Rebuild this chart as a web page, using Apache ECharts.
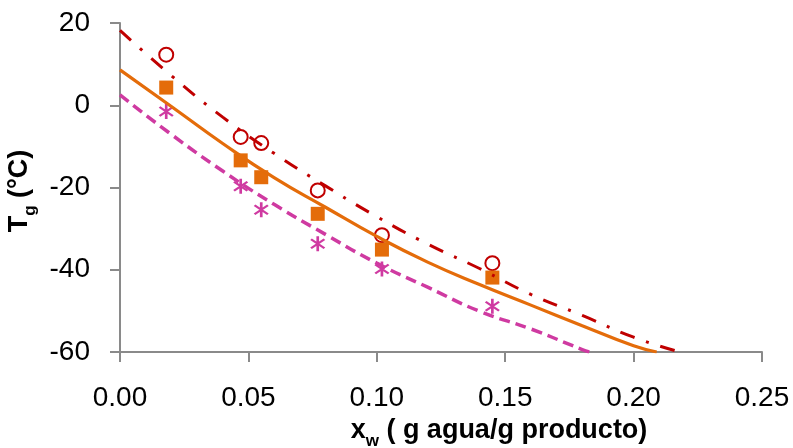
<!DOCTYPE html>
<html>
<head>
<meta charset="utf-8">
<script src="https://cdn.jsdelivr.net/npm/echarts@6/dist/echarts.min.js"></script>
<style>
  html, body { margin: 0; padding: 0; background: #fff; }
  #chart { width: 793px; height: 448px; }
</style>
</head>
<body>
<div id="chart"></div>
<script>
// measured points (x_w vs Tg)
var xMuestra = [0.018, 0.047, 0.055, 0.077, 0.102, 0.145];
var tgCirculo = [12.3, -7.7, -9.2, -20.7, -31.6, -38.4];
var tgCuadro = [4.3, -13.4, -17.5, -26.4, -35.1, -41.9];
var tgAsterisco = [-1.5, -19.7, -25.4, -33.7, -39.8, -48.9];

// model curves
var xRojo = [0, 0.02, 0.04, 0.06, 0.08, 0.10, 0.12, 0.14, 0.16, 0.18, 0.20, 0.218];
var tgRojo = [18.2, 7.2, -2.9, -11.7, -19.6, -27.1, -33.8, -39.7, -46.0, -51.1, -56.4, -60];
var xNaranja = [0, 0.02, 0.04, 0.06, 0.08, 0.10, 0.12, 0.14, 0.16, 0.18, 0.20, 0.209];
var tgNaranja = [8.6, -0.3, -9.3, -17.6, -24.8, -31.9, -38.2, -43.6, -48.6, -53.6, -58.5, -60];
var xRosa = [0, 0.02, 0.04, 0.06, 0.08, 0.10, 0.12, 0.14, 0.16, 0.18, 0.183];
var tgRosa = [2.5, -7.1, -16.0, -24.1, -31.4, -38.4, -44.3, -50.1, -54.4, -59.4, -60];

var rojo = '#C00000', naranja = '#E46C0A', rosa = '#CF3AA1';
var fuente = '"Liberation Sans", Arial, sans-serif';

function pares(xs, ys) {
    return xs.map(function (x, i) { return [x, ys[i]]; });
}

// asterisk marker: vertical bar + two diagonals
var asterisco = 'path://M8.6 0L11.4 0L11.4 20L8.6 20Z' +
    'M3.846 3.013L17.846 15.013L16.154 16.987L2.154 4.987Z' +
    'M16.154 3.013L17.846 4.987L3.846 16.987L2.154 15.013Z';

var richNombre = {
    b: { fontFamily: fuente, fontWeight: 'bold', fontSize: 27, lineHeight: 30, verticalAlign: 'top', color: '#000' },
    s: { fontFamily: fuente, fontWeight: 'bold', fontSize: 17, lineHeight: 48, verticalAlign: 'middle', color: '#000' }
};

var chart = echarts.init(document.getElementById('chart'));
var option = {
    animation: false,
    grid: { left: 120, right: 31, top: 23, bottom: 96, containLabel: false, outerBoundsMode: 'none' },
    xAxis: {
        type: 'value',
        min: 0, max: 0.25, interval: 0.05,
        name: '{b|x}{s|w}{b| ( g agua/g producto)}',
        nameLocation: 'middle',
        nameGap: 56,
        nameTextStyle: { padding: [0, 0, 0, 116], rich: richNombre },
        axisLine: { onZero: false, lineStyle: { color: '#8a8a8a', width: 2 } },
        axisTick: { show: true, length: 10, lineStyle: { color: '#8a8a8a', width: 2 } },
        axisLabel: {
            margin: 32, fontSize: 28, fontFamily: fuente, color: '#000',
            formatter: function (v) { return v.toFixed(2); }
        },
        splitLine: { show: false }
    },
    yAxis: {
        type: 'value',
        min: -60, max: 20, interval: 20,
        name: '{b|T}{s|g}{b| (°C)}',
        nameLocation: 'middle',
        nameGap: 64,
        nameTextStyle: { padding: [0, 7, 0, 0], rich: richNombre },
        axisLine: { show: true, onZero: false, lineStyle: { color: '#8a8a8a', width: 2 } },
        axisTick: { show: true, length: 10, lineStyle: { color: '#8a8a8a', width: 2 } },
        axisLabel: { margin: 30, fontSize: 28, fontFamily: fuente, color: '#000' },
        splitLine: { show: false }
    },
    series: [
        {
            type: 'line', data: pares(xRojo, tgRojo), showSymbol: false, smooth: true,
            lineStyle: { color: rojo, width: 3, type: [15, 12, 3, 12] }
        },
        {
            type: 'line', data: pares(xNaranja, tgNaranja), showSymbol: false, smooth: true,
            lineStyle: { color: naranja, width: 3.2 }
        },
        {
            type: 'line', data: pares(xRosa, tgRosa), showSymbol: false, smooth: true,
            lineStyle: { color: rosa, width: 3.5, type: [11, 6] }
        },
        {
            type: 'scatter', data: pares(xMuestra, tgCirculo), symbol: 'circle', symbolSize: 14,
            itemStyle: { color: '#fff', borderColor: rojo, borderWidth: 2, opacity: 1 }
        },
        {
            type: 'scatter', data: pares(xMuestra, tgCuadro), symbol: 'rect', symbolSize: 14,
            itemStyle: { color: naranja, opacity: 1 }
        },
        {
            type: 'scatter', data: pares(xMuestra, tgAsterisco), symbol: asterisco, symbolSize: 15,
            itemStyle: { color: rosa, opacity: 1 }
        }
    ]
};
chart.setOption(option);
</script>
</body>
</html>
